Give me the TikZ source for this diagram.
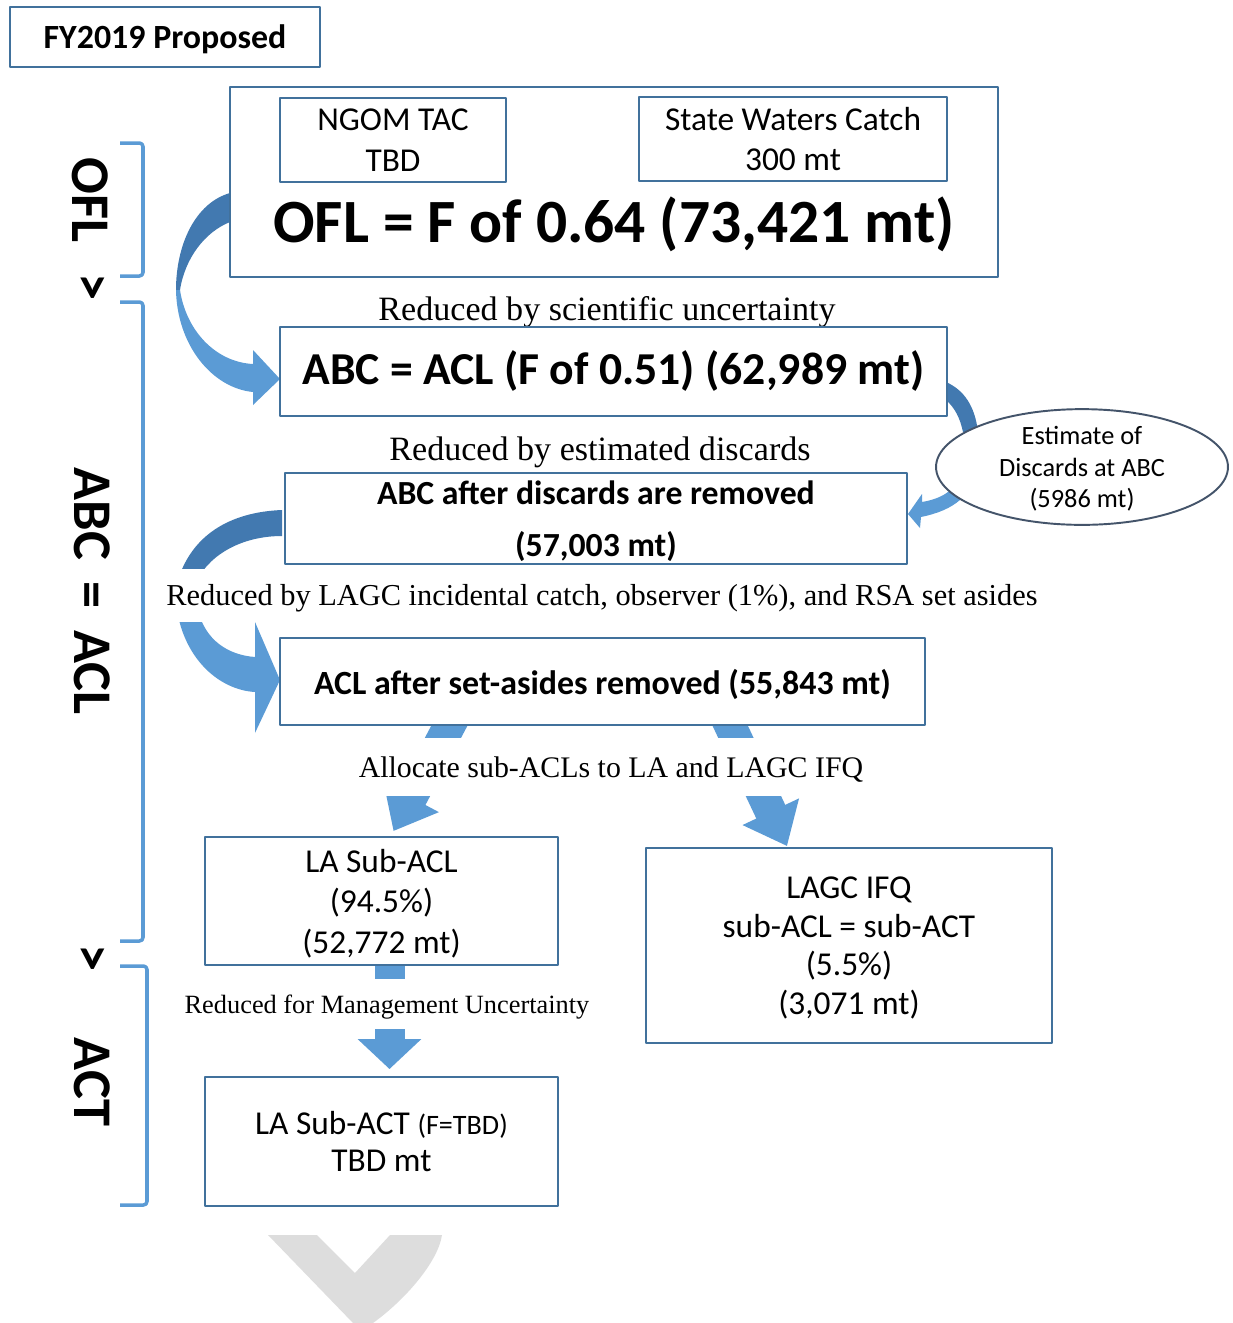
\documentclass[tikz,border=0pt]{standalone}
\usepackage{fontspec}
\setmainfont{Carlito}
\newfontfamily\timesf{Liberation Serif}
\usetikzlibrary{arrows.meta,shapes.geometric,calc,backgrounds}
\definecolor{boxblue}{RGB}{65,113,156}
\definecolor{brkblue}{RGB}{91,155,213}
\definecolor{arrblue}{RGB}{91,155,213}
\definecolor{arrdark}{RGB}{66,121,176}
\definecolor{ellline}{RGB}{68,84,106}
\definecolor{chevgray}{RGB}{221,221,221}
\begin{document}
\begin{tikzpicture}[x=0.02cm,y=-0.02cm,line join=round,
	box/.style={draw=boxblue,line width=1.1pt,fill=white,inner sep=0pt,align=center,text depth=0pt,font=\fontsize{19}{23}\selectfont},
	sidelbl/.style={rotate=-90,inner sep=0pt,font=\fontsize{31}{31}\selectfont\bfseries},
	bracket/.style={draw=brkblue,line width=2pt,rounded corners=2pt},
	reduce/.style={inner sep=0pt,text depth=0pt,font=\timesf\fontsize{19.4}{22}\selectfont},
	blockarr/.style={draw=arrblue,line width=0.64cm,-{Triangle[length=0.76cm,width=1.2cm]}}]
	\useasboundingbox (0,0) rectangle (1233,1323);
	\fill[chevgray] (268,1235) -- (317,1235) -- (355,1273) -- (390,1235) -- (442,1235) .. controls (438,1262) and (405,1300) .. (373,1323) -- (353,1323) -- cycle;
	\draw[bracket] (120,143) -- (143,143) -- (143,276) -- (120,276);
	\draw[bracket] (120,302) -- (143,302) -- (143,941) -- (120,941);
	\draw[bracket] (120,966) -- (147,966) -- (147,1205) -- (120,1205);
	\node[sidelbl] (lofl) at (90,200) {OFL};
	\node[sidelbl] (lge1) at (90,287) {>};
	\node[sidelbl] (labc) at (92,591) {ABC\hspace{0.17em} = \hspace{0.17em}ACL};
	\node[sidelbl] (lge2) at (90,958) {>};
	\node[sidelbl] (lact) at (92,1082) {ACT};
	\fill[arrdark] (230,193) .. controls (195,203) and (176,245) .. (176,290) -- (180,290) .. controls (185,258) and (205,232) .. (230,222) -- cycle;
	\fill[arrblue] (176,290) .. controls (177,345) and (212,388) .. (253,392) -- (253,405) -- (280,379) -- (253,350) -- (253,364) .. controls (215,362) and (186,330) .. (180,290) -- cycle;
	\fill[arrdark] (282,510) .. controls (230,512) and (192,535) .. (178,580) -- (197,580) .. controls (212,552) and (245,536) .. (282,536) -- cycle;
	\fill[arrblue] (177,610) .. controls (185,660) and (220,690) .. (255,692) -- (255,733) -- (280,680) -- (255,622) -- (255,657) .. controls (228,655) and (205,640) .. (198,610) -- cycle;
	\fill[arrdark] (946,382) .. controls (964,390) and (975,406) .. (978,432) -- (963,432) .. controls (960,418) and (955,408) .. (946,400) -- cycle;
	\fill[arrblue] (975,470) .. controls (972,495) and (955,510) .. (921,517) -- (920,528) -- (908,514) -- (922,494) -- (922,502) .. controls (945,498) and (958,488) .. (960,470) -- cycle;
	\node[box,font=\fontsize{19.3}{23}\selectfont\bfseries,minimum width=6.2cm,minimum height=1.2cm] (fy) at (165,37) {FY2019 Proposed};
	\node[box,minimum width=15.36cm,minimum height=3.8cm] (ofl) at (614,182) {};
	\node[box,minimum width=4.52cm,minimum height=1.68cm] (ngom) at (393,140) {NGOM TAC\\TBD};
	\node[box,minimum width=6.16cm,minimum height=1.68cm] (state) at (793,139) {State Waters Catch\\300 mt};
	\node[inner sep=0pt,font=\fontsize{35}{40}\selectfont\bfseries] (ofltxt) at (614,224) {OFL = F of 0.64 (73,421 mt)};
	\node[reduce] (sci) at (607,308) {Reduced by scientific uncertainty};
	\node[box,text depth=0.15cm,font=\fontsize{26}{30}\selectfont\bfseries,minimum width=13.34cm,minimum height=1.78cm] (abc) at (613.5,371.5) {ABC = ACL (F of 0.51) (62,989 mt)};
	\node[reduce] (est) at (600,449) {Reduced by estimated discards};
	\node[box,font=\fontsize{19.2}{29.5}\selectfont\bfseries,minimum width=12.44cm,minimum height=1.82cm] (after) at (596,518.5) {ABC after discards are removed\\(57,003 mt)};
	\node[ellipse,draw=ellline,line width=1.1pt,fill=white,minimum width=5.84cm,minimum height=2.28cm,inner sep=0pt,align=center,text depth=0pt,font=\fontsize{15}{18.1}\selectfont] (disc) at (1082,467) {Estimate of\\Discards at ABC\\(5986 mt)};
	\node[reduce,fill=white,minimum height=1.06cm,font=\timesf\fontsize{17.3}{20}\selectfont] (setaside) at (602,595) {Reduced by LAGC incidental catch, observer (1\%), and RSA set asides};
	\node[box,font=\fontsize{19.3}{23}\selectfont\bfseries,minimum width=12.9cm,minimum height=1.74cm] (acl) at (602.5,681.5) {ACL after set-asides removed (55,843 mt)};
	\node[reduce,fill=white,minimum height=1.16cm,font=\timesf\fontsize{17}{20}\selectfont] (alloc) at (611,767) {Allocate sub-ACLs to LA and LAGC IFQ};
	\node[box,minimum width=7.06cm,minimum height=2.56cm] (lasub) at (381.5,901) {LA Sub-ACL\\(94.5\%)\\(52,772 mt)};
	\node[box,font=\fontsize{19}{22}\selectfont,minimum width=8.12cm,minimum height=3.9cm] (lagc) at (849,945.5) {LAGC IFQ\\sub-ACL = sub-ACT\\(5.5\%)\\(3,071 mt)};
	\node[reduce,fill=white,minimum height=1.0cm,font=\timesf\fontsize{15}{18}\selectfont] (mgmt) at (387,1004) {Reduced for Management Uncertainty};
	\node[box,font=\fontsize{19}{21.5}\selectfont,minimum width=7.06cm,minimum height=2.58cm] (lasubact) at (381.5,1141.5) {LA Sub-ACT {\fontsize{16}{21.5}\selectfont(F=TBD)}\\TBD mt};
	\begin{scope}[on background layer]
		\draw[blockarr] ($(acl.south)+(-140,-25)$) -- ($(lasub.north)+(12,-5)$);
		\draw[blockarr] ($(acl.south)+(116,-25)$) -- ($(lagc.north)+(-62,-1)$);
		\draw[blockarr,line width=0.6cm,-{Triangle[length=0.6cm,width=1.24cm]}] ($(lasub.south)+(8,-15)$) -- ($(lasubact.north)+(8,-7)$);
	\end{scope}
\end{tikzpicture}
\end{document}
